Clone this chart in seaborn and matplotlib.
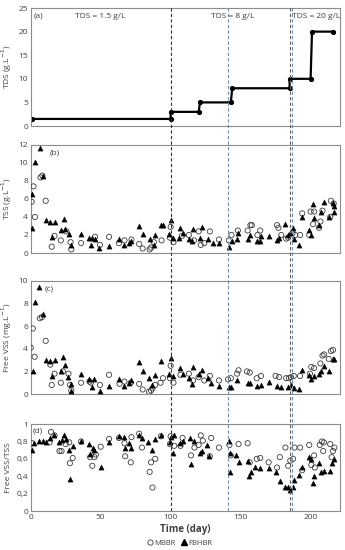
import numpy as np
import pandas as pd
import matplotlib
matplotlib.use("Agg")
import matplotlib.pyplot as plt
from matplotlib.lines import Line2D
from matplotlib.ticker import FuncFormatter
import seaborn as sns

# (a) TDS steps
tds_day = [1, 100, 100, 120, 121, 143, 144, 185, 185, 200, 201, 216]
tds_val = [1.5, 1.5, 3, 3, 5, 5, 8, 8, 10, 10, 20, 20]
tds_labels = ["TDS = 1.5 g/L", "TDS = 8 g/L", "TDS = 20 g/L"]
tds_label_day = [50, 144, 204]

# phase boundaries (day) and their colours
phase_day = [100, 141, 185, 187]
phase_color = ["#333333", "#5b8fd0", "#606060", "#5b8fd0"]

# (b) TSS
tss_mbbr_day = [0.7, 2, 3, 7, 8.3, 10.7, 15, 17, 21.5, 25.5, 28.5, 29, 36, 46, 49.5, 56, 63, 67, 72,
                77.5, 80, 85, 86, 88, 93.5, 99.5, 100, 102, 108, 113, 116.7, 120, 121.5, 124, 128,
                134.5, 141.5, 143.5, 148, 155, 157, 158, 162, 164, 176, 177, 179, 182.5, 184, 187,
                189, 192.5, 194, 199, 200, 201.8, 202.5, 206, 207, 208.5, 214, 214.5, 216.5]
tss_mbbr_val = [5.7, 7.4, 4.0, 8.4, 8.6, 5.8, 0.7, 1.9, 1.4, 2.4, 1.2, 0.4, 1.1, 1.8, 0.9, 1.8, 1.1, 1.4, 1.5,
                1.0, 0.5, 0.4, 0.6, 1.2, 1.4, 1.7, 2.9, 1.2, 1.9, 2.0, 1.4, 2.4, 0.9, 1.1, 2.4,
                1.5, 1.4, 2.0, 2.5, 2.5, 3.1, 3.1, 2.0, 2.5, 3.1, 2.8, 2.0, 1.6, 1.7, 2.2,
                2.0, 2.0, 4.4, 2.0, 4.6, 3.2, 4.6, 2.8, 3.5, 4.7, 4.0, 5.8, 5.5]
tss_fbhbr_day = [0.7, 1, 2.9, 6.7, 8.7, 10.7, 14, 17.5, 15, 24, 22, 24.5, 27.7, 29, 36, 42, 44, 46, 43, 49,
                 56, 63, 67, 69.9, 71.8, 77.5, 80, 85, 88, 89, 92.8, 94.5, 100, 98.5, 102, 106, 107,
                 108.7, 113, 115, 116, 122.5, 121, 127, 130, 134.5, 142, 144, 147.5, 148, 155, 156.7,
                 162, 164, 164.5, 170, 176, 177.5, 182, 184, 185, 187.5, 188, 192, 194, 199, 200.5,
                 201.8, 202.5, 206, 207.5, 209.7, 213, 216, 217, 216.5]
tss_fbhbr_val = [6.6, 2.8, 10.1, 11.7, 8.6, 3.7, 3.4, 3.4, 1.8, 3.8, 2.5, 2.7, 2.1, 0.9, 2.1, 1.7, 1.7, 1.5, 0.9, 0.5,
                 0.8, 1.5, 0.9, 1.1, 1.3, 3.0, 2.1, 1.5, 0.9, 2.0, 3.1, 3.1, 3.7, 2.1, 1.7, 1.7, 2.8,
                 2.2, 1.5, 1.3, 2.7, 2.9, 1.7, 1.6, 1.1, 1.1, 0.7, 1.3, 1.6, 2.2, 1.5, 2.0,
                 1.3, 1.3, 1.9, 1.9, 1.4, 1.7, 3.2, 2.0, 2.2, 2.8, 1.5, 0.9, 4.0, 2.6, 2.0,
                 5.4, 3.9, 3.1, 4.5, 5.7, 4.0, 5.6, 5.2, 4.5]

# (c) Free VSS
vss_mbbr_day = [0, 1.5, 2.8, 6.5, 8, 10.7, 14, 15, 17, 21.5, 23, 27, 28, 29, 36, 42, 43, 49.5, 56, 63.5,
                67, 71.5, 77.5, 80, 84.5, 86, 87, 89, 92.8, 94.5, 99.5, 100, 102, 107, 113, 116, 120,
                124, 128, 134.5, 141, 143, 147.5, 148.5, 154.5, 156.5, 161.5, 164.5, 175, 177.5,
                182.5, 184.5, 186, 188, 192.5, 199.5, 200.5, 202.5, 207, 208.5, 209.7, 213, 214.5, 216]
vss_mbbr_val = [4.1, 5.8, 3.3, 6.7, 6.8, 4.7, 2.6, 0.8, 1.8, 1.0, 2.0, 1.8, 0.8, 0.3, 1.0, 1.1, 1.0, 0.8, 1.7, 0.9,
                1.1, 1.0, 0.9, 0.4, 0.2, 0.3, 0.5, 0.8, 1.0, 1.4, 1.4, 2.5, 1.0, 1.7, 1.8, 1.2, 1.5,
                1.2, 1.6, 1.2, 1.3, 1.4, 1.8, 2.1, 2.0, 1.9, 1.4, 1.6, 1.6, 1.5,
                1.4, 1.4, 1.5, 1.6, 1.6, 1.8, 2.4, 2.3, 2.7, 3.4, 3.5, 3.1, 3.8, 3.9]
vss_fbhbr_day = [1.5, 2.8, 6.2, 8.7, 10.7, 14, 17.5, 15, 21.5, 23, 24.5, 27, 28.5, 29, 36, 41.5, 45, 43.5,
                 49.5, 56, 63, 67, 70.5, 72, 77.5, 80, 84.5, 87, 89, 92.8, 100, 98.5, 102, 107, 108.5,
                 113, 115, 116, 122.5, 120, 127, 129, 134.5, 141.5, 143, 147.5, 155, 157, 162, 164.5,
                 170, 176, 178.5, 184, 186, 188, 192, 194, 199, 200.5, 202.5, 206, 207.5, 209.7, 213,
                 216, 217]
vss_fbhbr_val = [2.0, 8.1, 9.5, 7.1, 3.0, 2.9, 3.0, 1.6, 2.0, 3.3, 2.6, 1.5, 0.3, 0.9, 1.8, 1.3, 1.3, 0.6,
                 0.3, 0.7, 1.3, 0.7, 1.0, 1.2, 2.8, 2.0, 1.4, 0.8, 1.7, 2.9, 3.2, 1.8, 1.6, 2.3, 1.8,
                 1.4, 0.9, 2.4, 2.1, 1.8, 1.4, 1.0, 0.7, 0.6, 0.6, 1.2, 1.0, 1.0, 0.7, 0.8,
                 1.1, 0.7, 0.6, 0.6, 0.8, 0.5, 0.4, 2.1, 1.7, 1.3, 1.6, 1.8, 2.0, 2.5, 2.0,
                 3.1, 3.1]

# (d) Free VSS/TSS
ratio_mbbr_day = [1, 13.5, 14.5, 17, 20.5, 22, 25, 27.5, 28, 30, 36, 42.5, 44, 45.5, 46.5, 50, 56, 63, 67,
                  67.5, 71.5, 72, 77.5, 79.5, 85, 86, 87, 89, 93, 99.5, 100, 102.5, 107, 108.5, 114.5,
                  117, 120, 121.5, 123, 128, 129, 134.5, 142, 143, 148.5, 155, 156.5, 161.5, 164, 170,
                  176, 178, 182, 184, 185.5, 187.5, 188.5, 192.5, 194, 199, 200.5, 202.5, 203, 206.5,
                  208, 209, 209.5, 214, 215, 216, 217]
ratio_mbbr_val = [0.78, 0.79, 0.91, 0.87, 0.69, 0.69, 0.77, 0.79, 0.55, 0.61, 0.80, 0.62, 0.52, 0.62, 0.65, 0.74, 0.83, 0.84, 0.78,
                  0.63, 0.56, 0.85, 0.89, 0.73, 0.45, 0.56, 0.27, 0.60, 0.86, 0.77, 0.86, 0.75, 0.75, 0.84, 0.64,
                  0.73, 0.76, 0.87, 0.81, 0.63, 0.84, 0.73, 0.76, 0.64, 0.77, 0.78, 0.56, 0.60, 0.61, 0.56,
                  0.50, 0.62, 0.73, 0.52, 0.58, 0.60, 0.73, 0.73, 0.47, 0.76, 0.53, 0.64, 0.50, 0.76,
                  0.80, 0.69, 0.79, 0.77, 0.62, 0.69, 0.73]
ratio_fbhbr_day = [0.7, 2, 6, 8.7, 10.7, 14, 17, 20.5, 22.5, 24, 25, 27.5, 28, 30, 36, 41.5, 42.5, 44.5, 45.5,
                   50, 56, 63, 66.5, 67.5, 70.5, 72, 77.5, 79.5, 84, 87, 88.5, 93, 99.5, 100, 101.5, 102.5,
                   107, 108.5, 113.5, 114.5, 116.5, 121, 122.5, 126, 127.5, 141.5, 142.5, 142.5, 147,
                   148.5, 155, 156, 157.5, 160.5, 164, 170, 175.5, 178, 182, 183.5, 185, 187.5, 188, 192,
                   194, 199, 200.5, 201.8, 202.5, 206, 207.5, 209.5, 213.5, 215, 216.5]
ratio_fbhbr_val = [0.70, 0.78, 0.80, 0.80, 0.79, 0.84, 0.87, 0.79, 0.82, 0.87, 0.83, 0.70, 0.37, 0.75, 0.80, 0.77, 0.66, 0.73, 0.70,
                   0.51, 0.79, 0.86, 0.85, 0.72, 0.78, 0.72, 0.87, 0.84, 0.79, 0.70, 0.83, 0.87, 0.79, 0.85, 0.67, 0.87,
                   0.78, 0.80, 0.84, 0.54, 0.81, 0.67, 0.69, 0.76, 0.63, 0.81, 0.67, 0.45, 0.64,
                   0.56, 0.58, 0.40, 0.45, 0.51, 0.49, 0.49, 0.45, 0.34, 0.28, 0.28, 0.24, 0.28, 0.36, 0.41,
                   0.51, 0.62, 0.60, 0.32, 0.40, 0.55, 0.45, 0.46, 0.46, 0.55, 0.60]

sns.set_style("ticks")
plt.rcParams["font.family"] = ["Open Sans", "DejaVu Sans"]
TXT = "#404040"
FRAME = "#8c8c8c"

fig = plt.figure(figsize=(3.45, 5.5), dpi=100)
left, width = 0.089, 0.8965
ax_a = fig.add_axes([left, 0.7709, width, 0.2145])
ax_b = fig.add_axes([left, 0.540, width, 0.1964])
ax_c = fig.add_axes([left, 0.2836, width, 0.2055])
ax_d = fig.add_axes([left, 0.0709, width, 0.158])
axes = [ax_a, ax_b, ax_c, ax_d]

# overlay axes for the phase lines that run through all panels
ax_ov = fig.add_axes([left, 0.0709, width, 0.7709 + 0.2145 - 0.0709])
ax_ov.set_xlim(0, 221)
ax_ov.set_ylim(0, 1)
ax_ov.axis("off")
for d, c in zip(phase_day, phase_color):
    ax_ov.axvline(d, color=c, linestyle=(0, (3, 2)), linewidth=0.8)

sns.lineplot(x=tds_day, y=tds_val, ax=ax_a, color="black", linewidth=1.6, marker="o",
             markersize=3, markeredgecolor="black", sort=False, estimator=None)
for lbl, d in zip(tds_labels, tds_label_day):
    ax_a.text(d, 23.2, lbl, ha="center", va="center", fontsize=6, color=TXT)


def scatter_pair(ax, md, mv, fd, fv):
    sns.scatterplot(x=md, y=mv, ax=ax, marker="o", s=14, facecolors="none",
                    edgecolors="#3a3a3a", linewidths=0.6, zorder=3)
    sns.scatterplot(x=fd, y=fv, ax=ax, marker="^", s=14, color="black",
                    edgecolors="black", linewidths=0.3, zorder=4)


scatter_pair(ax_b, tss_mbbr_day, tss_mbbr_val, tss_fbhbr_day, tss_fbhbr_val)
scatter_pair(ax_c, vss_mbbr_day, vss_mbbr_val, vss_fbhbr_day, vss_fbhbr_val)
scatter_pair(ax_d, ratio_mbbr_day, ratio_mbbr_val, ratio_fbhbr_day, ratio_fbhbr_val)

ylims = [(0, 25), (0, 12), (0, 10), (0, 1)]
yticks = [np.arange(0, 26, 5), np.arange(0, 13, 2), np.arange(0, 11, 2), np.arange(0, 1.01, 0.2)]
ylabels = ["TDS (g.L$^{-1}$)", "TSS (g.L$^{-1}$)", "Free VSS (mg.L$^{-1}$)", "Free VSS/TSS"]
tags = ["(a)", "(b)", "(c)", "(d)"]
tag_x = [0.01, 0.06, 0.045, 0.005]
for ax, yl, yt, lab, tag, tx in zip(axes, ylims, yticks, ylabels, tags, tag_x):
    ax.set_xlim(0, 221)
    ax.set_ylim(*yl)
    ax.set_yticks(yt)
    ax.set_ylabel(lab, fontsize=6, color=TXT, labelpad=3)
    ax.tick_params(axis="both", labelsize=6, colors=TXT, length=0, pad=2)
    for sp in ax.spines.values():
        sp.set_visible(True)
        sp.set_color(FRAME)
        sp.set_linewidth(0.8)
    ax.text(tx, 0.96, tag, transform=ax.transAxes, ha="left", va="top", fontsize=6, color=TXT)
    if ax is not ax_d:
        ax.set_xticks([])
        ax.set_xlabel("")

ax_d.set_xticks([0, 50, 100, 150, 200])
ax_d.yaxis.set_major_formatter(FuncFormatter(lambda v, p: f"{v:g}".replace(".", ",")))
ax_d.set_xlabel("Time (day)", fontsize=7, color=TXT, fontweight="bold", labelpad=2)

handles = [
    Line2D([], [], marker="o", linestyle="none", markerfacecolor="none", markeredgecolor="#3a3a3a",
           markersize=3.8, markeredgewidth=0.6, label="MBBR"),
    Line2D([], [], marker="^", linestyle="none", color="black", markersize=3.8, label="FBHBR"),
]
leg = fig.legend(handles=handles, loc="center", bbox_to_anchor=(0.52, 0.012), ncol=2, frameon=False,
                 fontsize=5.5, handletextpad=0.1, columnspacing=0.6, handlelength=1)
for t in leg.get_texts():
    t.set_color(TXT)

fig.savefig("out.png", dpi=100, facecolor="white")
